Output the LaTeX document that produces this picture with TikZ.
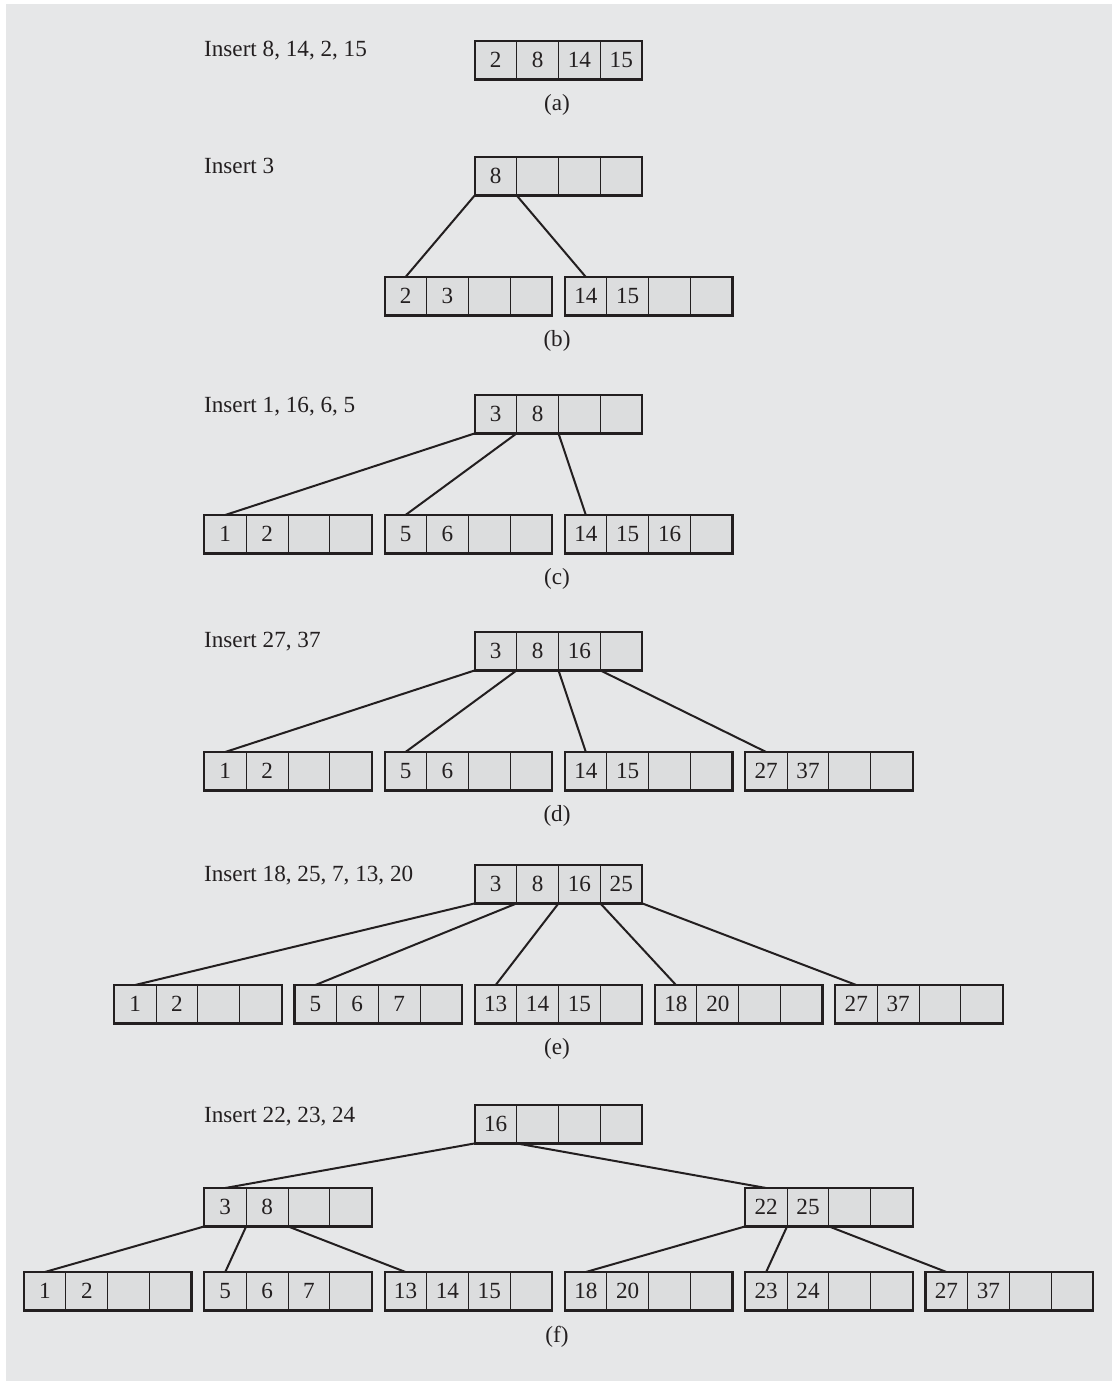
\documentclass[tikz,border=0pt]{standalone}
\usepackage{fontspec}
\setmainfont{Liberation Serif}
\definecolor{panel}{HTML}{E6E7E8}
\definecolor{cellgray}{HTML}{DCDDDE}
\definecolor{ink}{HTML}{231F20}
\tikzset{
  cell/.style={draw=ink, line width=1pt, fill=cellgray, minimum width=41.875pt,
    minimum height=38.4pt, inner sep=0pt, outer sep=0pt, anchor=north west},
  outline/.style={draw=ink, line width=2.2pt},
  ptr/.style={draw=ink, line width=2pt},
  lbl/.style={anchor=base west, inner sep=0pt},
  sublbl/.style={anchor=base, inner sep=0pt}
}
% #1 name, #2 column, #3 top, #4 keys
\newcommand{\btnode}[4]{%
  \foreach \k [count=\i] in {#4}
    \node[cell] (#1-\i) at ({24+90.15*#2+41.875*(\i-1)},#3) {\k};
  \draw[outline] (#1-1.north west) rectangle (#1-4.south east);
}
\begin{document}
\begin{tikzpicture}[x=1pt, y=-1pt, font=\fontsize{23.15}{27.8}\selectfont, color=ink]
  \fill[white] (0,0) rectangle (1112,1381);
  \fill[panel] (6,4) rectangle (1112,1381);
  \useasboundingbox (0,0) rectangle (1112,1381);

  % (a)
  \node[lbl] (la) at (204,57) {Insert 8, 14, 2, 15};
  \btnode{a}{5}{41}{2,8,14,15}
  \node[sublbl] (ca) at (557,110) {(a)};

  % (b)
  \node[lbl] (lb) at (204,173) {Insert 3};
  \btnode{b}{5}{157}{8,{},{},{}}
  \btnode{b1}{4}{277}{2,3,{},{}}
  \btnode{b2}{6}{277}{14,15,{},{}}
  \draw[ptr] (b-1.south west) -- (b1-1.north);
  \draw[ptr] (b-1.south east) -- (b2-1.north);
  \node[sublbl] (cb) at (557,346) {(b)};

  % (c)
  \node[lbl] (lc) at (204,412) {Insert 1, 16, 6, 5};
  \btnode{c}{5}{395}{3,8,{},{}}
  \btnode{c1}{2}{515}{1,2,{},{}}
  \btnode{c2}{4}{515}{5,6,{},{}}
  \btnode{c3}{6}{515}{14,15,16,{}}
  \draw[ptr] (c-1.south west) -- (c1-1.north);
  \draw[ptr] (c-1.south east) -- (c2-1.north);
  \draw[ptr] (c-2.south east) -- (c3-1.north);
  \node[sublbl] (cc) at (557,584) {(c)};

  % (d)
  \node[lbl] (ld) at (204,647) {Insert 27, 37};
  \btnode{d}{5}{632}{3,8,16,{}}
  \btnode{d1}{2}{752}{1,2,{},{}}
  \btnode{d2}{4}{752}{5,6,{},{}}
  \btnode{d3}{6}{752}{14,15,{},{}}
  \btnode{d4}{8}{752}{27,37,{},{}}
  \draw[ptr] (d-1.south west) -- (d1-1.north);
  \draw[ptr] (d-1.south east) -- (d2-1.north);
  \draw[ptr] (d-2.south east) -- (d3-1.north);
  \draw[ptr] (d-3.south east) -- (d4-1.north);
  \node[sublbl] (cd) at (557,821) {(d)};

  % (e)
  \node[lbl] (le) at (204,881) {Insert 18, 25, 7, 13, 20};
  \btnode{e}{5}{865}{3,8,16,25}
  \btnode{e1}{1}{985}{1,2,{},{}}
  \btnode{e2}{3}{985}{5,6,7,{}}
  \btnode{e3}{5}{985}{13,14,15,{}}
  \btnode{e4}{7}{985}{18,20,{},{}}
  \btnode{e5}{9}{985}{27,37,{},{}}
  \draw[ptr] (e-1.south west) -- (e1-1.north);
  \draw[ptr] (e-1.south east) -- (e2-1.north);
  \draw[ptr] (e-2.south east) -- (e3-1.north);
  \draw[ptr] (e-3.south east) -- (e4-1.north);
  \draw[ptr] (e-4.south east) -- (e5-1.north);
  \node[sublbl] (ce) at (557,1054) {(e)};

  % (f)
  \node[lbl] (lf) at (204,1122) {Insert 22, 23, 24};
  \btnode{f}{5}{1105}{16,{},{},{}}
  \btnode{fl}{2}{1188}{3,8,{},{}}
  \btnode{fr}{8}{1188}{22,25,{},{}}
  \btnode{f1}{0}{1272}{1,2,{},{}}
  \btnode{f2}{2}{1272}{5,6,7,{}}
  \btnode{f3}{4}{1272}{13,14,15,{}}
  \btnode{f4}{6}{1272}{18,20,{},{}}
  \btnode{f5}{8}{1272}{23,24,{},{}}
  \btnode{f6}{10}{1272}{27,37,{},{}}
  \draw[ptr] (f-1.south west) -- (fl-1.north);
  \draw[ptr] (f-1.south east) -- (fr-1.north);
  \draw[ptr] (fl-1.south west) -- (f1-1.north);
  \draw[ptr] (fl-1.south east) -- (f2-1.north);
  \draw[ptr] (fl-2.south east) -- (f3-1.north);
  \draw[ptr] (fr-1.south west) -- (f4-1.north);
  \draw[ptr] (fr-1.south east) -- (f5-1.north);
  \draw[ptr] (fr-2.south east) -- (f6-1.north);
  \node[sublbl] (cf) at (557,1342) {(f)};
\end{tikzpicture}
\end{document}
